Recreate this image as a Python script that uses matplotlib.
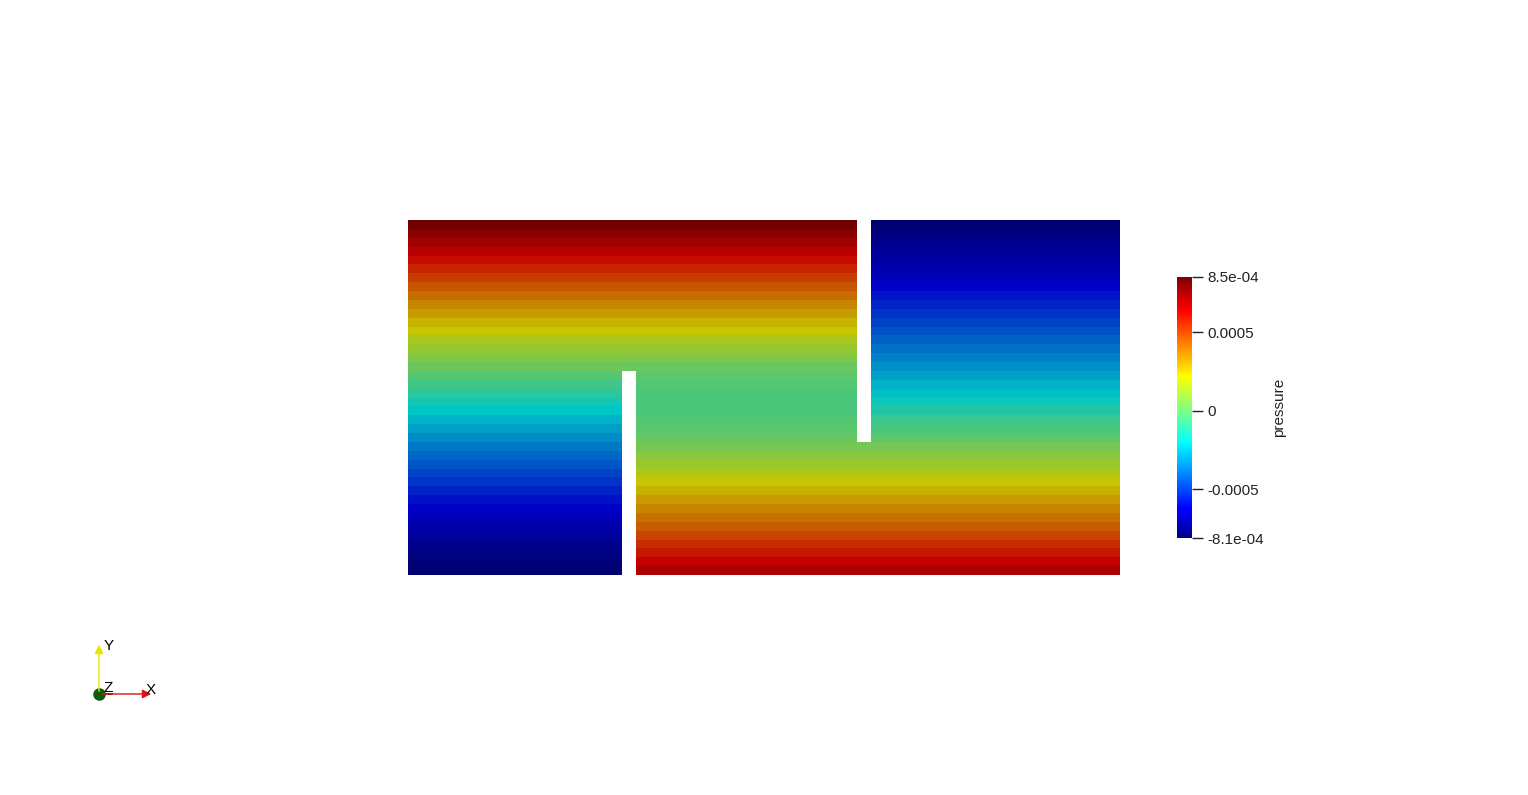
import numpy as np
import matplotlib
matplotlib.use("Agg")
import matplotlib.pyplot as plt
from matplotlib.colors import LinearSegmentedColormap, Normalize

# pressure in each mesh row, bottom row first (units of 1e-4)
p_left = [-8.04, -7.87, -7.65, -7.40, -7.13, -6.84, -6.54, -6.22, -5.88, -5.54,
          -5.18, -4.82, -4.44, -4.06, -3.66, -3.26, -2.85, -2.43, -2.01, -1.58,
          -1.14, -0.69, -0.24, 0.21, 0.67, 1.14, 1.62, 2.10, 2.58, 3.07,
          3.57, 4.07, 4.57, 5.09, 5.60, 6.11, 6.64, 7.17, 7.70, 8.23]
p_mid = [6.90, 6.40, 5.90, 5.40, 4.90, 4.45, 4.00, 3.55, 3.10, 2.65,
         2.20, 1.75, 1.30, 0.85, 0.45, 0.10, -0.15, -0.30, -0.40, -0.45,
         -0.40, -0.30, -0.10, 0.15, 0.67, 1.14, 1.62, 2.10, 2.58, 3.07,
         3.57, 4.07, 4.57, 5.09, 5.60, 6.11, 6.64, 7.17, 7.70, 8.23]
p_right = [6.90, 6.40, 5.90, 5.40, 4.90, 4.45, 4.00, 3.55, 3.10, 2.65,
           2.20, 1.75, 1.30, 0.85, 0.45, -0.10, -0.45, -0.85, -1.30, -1.75,
           -2.15, -2.50, -2.85, -3.19, -3.52, -3.85, -4.18, -4.51, -4.84, -5.17,
           -5.50, -5.83, -6.16, -6.45, -6.75, -7.00, -7.25, -7.50, -7.75, -8.00]

# column edges: left part, left baffle, middle, right baffle, right part
x_edges = [0.0, 0.6, 0.64, 1.26, 1.3, 2.0]
n_rows = 40
left_baffle_top = 23      # rows from here up are open over the left baffle
right_baffle_bottom = 15  # rows below this are open under the right baffle

p_min, p_max = -8.1e-4, 8.5e-4
cbar_ticks = [p_min, -0.0005, 0, 0.0005, p_max]
cbar_labels = ["-8.1e-04", "-0.0005", "0", "0.0005", "8.5e-04"]

Z = np.full((n_rows, 5), np.nan)
for i in range(n_rows):
    Z[i, 0] = p_left[i]
    Z[i, 2] = p_mid[i]
    Z[i, 4] = p_right[i]
    if i >= left_baffle_top:
        Z[i, 1] = (p_left[i] + p_mid[i]) / 2
    if i < right_baffle_bottom:
        Z[i, 3] = (p_mid[i] + p_right[i]) / 2
Z = Z * 1e-4
y_edges = np.linspace(0, 1, n_rows + 1)

# paraview style jet
jet_pos = [0, 0.111111, 0.365079, 0.492063, 0.619048, 0.873016, 1]
jet_rgb = [(0, 0, 0.5625), (0, 0, 1), (0, 1, 1), (0.5, 1, 0.5),
           (1, 1, 0), (1, 0, 0), (0.5, 0, 0)]
shade = 0.78
cmap = LinearSegmentedColormap.from_list("pv_jet", list(zip(jet_pos, jet_rgb)))
cmap_lit = LinearSegmentedColormap.from_list(
    "pv_jet_lit", [(p, tuple(c * shade for c in rgb)) for p, rgb in zip(jet_pos, jet_rgb)])
norm = Normalize(vmin=p_min, vmax=p_max)

plt.rcParams["font.family"] = ["Liberation Sans", "DejaVu Sans"]
W, H = 1528, 795
fig = plt.figure(figsize=(W / 100, H / 100), dpi=100)

# triad overlay in pixel coords
ax_t = fig.add_axes([0, 0, 1, 1])
ax_t.set_xlim(0, W)
ax_t.set_ylim(H, 0)
ax_t.axis("off")
ax_t.annotate("", xy=(154, 694), xytext=(99, 694),
              arrowprops=dict(arrowstyle="-|>", color="#e01010", lw=1, mutation_scale=13))
ax_t.annotate("", xy=(99, 642), xytext=(99, 694),
              arrowprops=dict(arrowstyle="-|>", color="#e6e600", lw=1, mutation_scale=13))
ax_t.plot([99, 112], [694, 694], color="#222222", lw=1.2)
ax_t.plot(99, 694, "o", color="#0b5e0b", ms=8)
ax_t.text(104, 646, "Y", fontsize=11, color="black", va="center", ha="left")
ax_t.text(103, 688, "Z", fontsize=11, color="black", va="center", ha="left")
ax_t.text(146, 690, "X", fontsize=11, color="black", va="center", ha="left")

ax = fig.add_axes([408 / W, 1 - 575 / H, 712 / W, 355 / H])
ax.pcolormesh(x_edges, y_edges, np.ma.masked_invalid(Z), cmap=cmap_lit, norm=norm,
              shading="flat", antialiased=False)
ax.set_xlim(0, 2)
ax.set_ylim(0, 1)
ax.axis("off")

cax = fig.add_axes([1177 / W, 1 - 538 / H, 15 / W, 261 / H])
sm = plt.cm.ScalarMappable(norm=norm, cmap=cmap)
cb = fig.colorbar(sm, cax=cax, ticks=cbar_ticks)
cb.set_ticklabels(cbar_labels)
cb.outline.set_visible(False)
cax.tick_params(axis="y", length=8, width=1, color="#222222", pad=3,
                labelsize=11, labelcolor="#222222", direction="out")
fig.text(1279 / W, 1 - 407 / H, "pressure", rotation=90, ha="center", va="center",
         fontsize=11, color="#222222")

fig.savefig("out.png", dpi=100, facecolor="white")
